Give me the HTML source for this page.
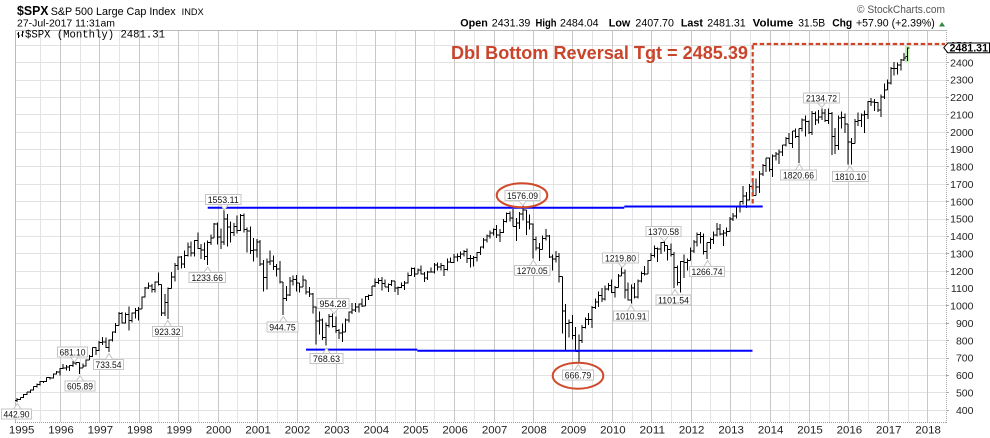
<!DOCTYPE html>
<html><head><meta charset="utf-8">
<style>
html,body{margin:0;padding:0;background:#fff;}
svg{display:block;}
text{font-family:"Liberation Sans",Arial,sans-serif;}
.ax{font-size:10.5px;fill:#222;}
.xl{font-size:11px;fill:#222;}
.lb{font-size:9.5px;fill:#111;}
.hb{font-size:11px;font-weight:bold;fill:#000;}
.hn{font-size:11px;fill:#000;}
</style></head>
<body>
<svg width="990" height="438" viewBox="0 0 990 438">
<rect x="0" y="0" width="990" height="438" fill="#fff"/>
<!-- gridlines -->
<path fill="none" stroke="#e2e2e2" stroke-width="1" d="M16 410.5H946M16 392.5H946M16 375.5H946M16 358.5H946M16 340.5H946M16 323.5H946M16 305.5H946M16 288.5H946M16 271.5H946M16 253.5H946M16 236.5H946M16 219.5H946M16 201.5H946M16 184.5H946M16 166.5H946M16 149.5H946M16 132.5H946M16 114.5H946M16 97.5H946M16 80.5H946M16 62.5H946M16 45.5H946"/>
<path fill="none" stroke="#e4e4e4" stroke-width="1" d="M40.5 31V422M80.5 31V422M119.5 31V422M158.5 31V422M198.5 31V422M237.5 31V422M277.5 31V422M316.5 31V422M356.5 31V422M395.5 31V422M434.5 31V422M474.5 31V422M513.5 31V422M553.5 31V422M592.5 31V422M632.5 31V422M671.5 31V422M710.5 31V422M750.5 31V422M789.5 31V422M829.5 31V422M868.5 31V422M908.5 31V422"/>
<path fill="none" stroke="#c8c8c8" stroke-width="1" d="M60.5 31V422M99.5 31V422M139.5 31V422M178.5 31V422M218.5 31V422M257.5 31V422M297.5 31V422M336.5 31V422M375.5 31V422M415.5 31V422M454.5 31V422M494.5 31V422M533.5 31V422M572.5 31V422M612.5 31V422M651.5 31V422M691.5 31V422M730.5 31V422M770.5 31V422M809.5 31V422M848.5 31V422M888.5 31V422M927.5 31V422"/>
<path fill="none" stroke="#aaa" stroke-width="1" d="M946 410.5H949M946 392.5H949M946 375.5H949M946 358.5H949M946 340.5H949M946 323.5H949M946 305.5H949M946 288.5H949M946 271.5H949M946 253.5H949M946 236.5H949M946 219.5H949M946 201.5H949M946 184.5H949M946 166.5H949M946 149.5H949M946 132.5H949M946 114.5H949M946 97.5H949M946 80.5H949M946 62.5H949M946 45.5H949"/>
<!-- plot border -->
<line x1="15.5" y1="30" x2="15.5" y2="422" stroke="#bbb"/>
<line x1="15" y1="30.5" x2="946" y2="30.5" stroke="#bbb"/>
<line x1="15" y1="422.5" x2="946" y2="422.5" stroke="#999" stroke-dasharray="1,1"/>
<line x1="946.5" y1="30" x2="946.5" y2="423" stroke="#aaa" stroke-dasharray="1,1"/>
<!-- last bar highlight -->
<rect x="905" y="46" width="4.5" height="16.5" fill="#bff0b0"/>
<!-- OHLC bars: x = month index, y = price -->
<g transform="translate(20.4,479.2) scale(3.285,-0.17375)">
<path fill="none" stroke="#000" stroke-width="1" vector-effect="non-scaling-stroke" shape-rendering="crispEdges" d="
M-1 466V442.9M-1.6 453.6H-1M-1 459.3H-.4
M0 471V456M-.6 459.3H0M0 470.4H.6
M1 489V468M.4 470.4H1M1 487.4H1.6
M2 503V484M1.4 487.4H2M2 500.7H2.6
M3 515V497M2.4 500.7H3M3 514.7H3.6
M4 534V511M3.4 514.7H4M4 533.4H4.6
M5 551V528M4.4 533.4H5M5 544.8H5.6
M6 565V540M5.4 544.8H6M6 562.1H6.6
M7 564V553M6.4 562.1H7M7 561.9H7.6
M8 586V559M7.4 561.9H8M8 584.4H8.6
M9 588V573M8.4 584.4H9M9 581.5H9.6
M10 608V580M9.4 581.5H10M10 605.4H10.6
M11 622V603M10.4 605.4H11M11 615.9H11.6
M12 639V598M11.4 615.9H12M12 636H12.6
M13 664V633M12.4 636H13M13 640.4H13.6
M14 656V627M13.4 640.4H14M14 645.5H14.6
M15 657V624M14.4 645.5H15M15 654.2H15.6
M16 681.1V645M15.4 654.2H16M16 669.1H16.6
M17 673V658M16.4 669.1H17M17 670.6H17.6
M18 672V605.9M17.4 670.6H18M18 640H18.6
M19 665V639M18.4 640H19M19 652H19.6
M20 690V650M19.4 652H20M20 687.3H20.6
M21 714V685M20.4 687.3H21M21 705.3H21.6
M22 758V703M21.4 705.3H22M22 757H22.6
M23 762V716M22.4 757H23M23 740.7H23.6
M24 794V737M23.4 740.7H24M24 786.2H24.6
M25 818V773M24.4 786.2H25M25 790.8H25.6
M26 815V756M25.4 790.8H26M26 757.1H26.6
M27 804V733.5M26.4 757.1H27M27 801.3H27.6
M28 851V793M27.4 801.3H28M28 848.3H28.6
M29 899V841M28.4 848.3H29M29 885.1H29.6
M30 961V884M29.4 885.1H30M30 954.3H30.6
M31 961V895M30.4 954.3H31M31 899.5H31.6
M32 960V896M31.4 899.5H32M32 947.3H32.6
M33 994V855M32.4 947.3H33M33 914.6H33.6
M34 960V902M33.4 914.6H34M34 955.4H34.6
M35 986V924M34.4 955.4H35M35 970.4H35.6
M36 992V912M35.4 970.4H36M36 980.3H36.6
M37 1051V979M36.4 980.3H37M37 1049.3H37.6
M38 1106V1045M37.4 1049.3H38M38 1101.8H38.6
M39 1131V1095M38.4 1101.8H39M39 1111.8H39.6
M40 1123V1074M39.4 1111.8H40M40 1090.8H40.6
M41 1139V1075M40.4 1090.8H41M41 1133.8H41.6
M42 1190.6V1114M41.4 1133.8H42M42 1120.7H42.6
M43 1121V940M42.4 1120.7H43M43 957.3H43.6
M44 1066V940M43.4 957.3H44M44 1017H44.6
M45 1103.8V923.3M44.4 1017H45M45 1098.7H45.6
M46 1193V1098.7M45.4 1098.7H46M46 1163.6H46.6
M47 1245V1137M46.4 1163.6H47M47 1229.2H47.6
M48 1280.7V1205M47.4 1229.2H48M48 1279.6H48.6
M49 1283.8V1211.9M48.4 1279.6H49M49 1238.3H49.6
M50 1316.2V1216M49.4 1238.3H50M50 1286.4H50.6
M51 1362.8V1282.6M50.4 1286.4H51M51 1335.2H51.6
M52 1368.6V1281M51.4 1335.2H52M52 1301.8H52.6
M53 1376.5V1281.4M52.4 1301.8H53M53 1372.7H53.6
M54 1420.3V1325M53.4 1372.7H54M54 1328.7H54.6
M55 1352.5V1268.4M54.4 1328.7H55M55 1320.4H55.6
M56 1361.5V1263M55.4 1320.4H56M56 1282.7H56.6
M57 1373.2V1233.7M56.4 1282.7H57M57 1362.9H57.6
M58 1407.6V1348.6M57.4 1362.9H58M58 1388.9H58.6
M59 1473.4V1387.4M58.4 1388.9H59M59 1469.3H59.6
M60 1478V1350M59.4 1469.3H60M60 1394.5H60.6
M61 1444V1325M60.4 1394.5H61M61 1366.4H61.6
M62 1553.1V1346.6M61.4 1366.4H62M62 1498.6H62.6
M63 1527V1339M62.4 1498.6H63M63 1452.4H63.6
M64 1482V1361M63.4 1452.4H64M64 1420.6H64.6
M65 1474V1400M64.4 1420.6H65M65 1454.6H65.6
M66 1517V1415M65.4 1454.6H66M66 1430.8H66.6
M67 1525V1429M66.4 1430.8H67M67 1517.7H67.6
M68 1530V1419M67.4 1517.7H68M68 1436.5H68.6
M69 1448V1305.8M68.4 1436.5H69M69 1429.4H69.6
M70 1454V1296M69.4 1429.4H70M70 1315H70.6
M71 1389V1254M70.4 1315H71M71 1320.3H71.6
M72 1383V1274.6M71.4 1320.3H72M72 1366H72.6
M73 1376.7V1228M72.4 1366H73M73 1239.9H73.6
M74 1263V1081M73.4 1239.9H74M74 1160.3H74.6
M75 1269V1092M74.4 1160.3H75M75 1249.5H75.6
M76 1315.9V1232M75.4 1249.5H76M76 1255.8H76.6
M77 1286.6V1203M76.4 1255.8H77M77 1224.4H77.6
M78 1239.8V1165.5M77.4 1224.4H78M78 1211.2H78.6
M79 1255.8V1124.9M78.4 1211.2H79M79 1133.6H79.6
M80 1134V944.8M79.4 1133.6H80M80 1040.9H80.6
M81 1110.6V1026.8M80.4 1040.9H81M81 1059.8H81.6
M82 1163.4V1054.3M81.4 1059.8H82M82 1139.5H82.6
M83 1173.6V1114.9M82.4 1139.5H83M83 1148.1H83.6
M84 1176.5V1081.7M83.4 1148.1H84M84 1130.2H84.6
M85 1130.2V1074.4M84.4 1130.2H85M85 1106.7H85.6
M86 1173V1106.7M85.4 1106.7H86M86 1147.4H86.6
M87 1147.8V1063.5M86.4 1147.4H87M87 1076.9H87.6
M88 1106.6V1048.9M87.4 1076.9H88M88 1067.1H88.6
M89 1070.7V952.9M88.4 1067.1H89M89 989.8H89.6
M90 994.5V775.7M89.4 989.8H90M90 911.6H90.6
M91 965V833.4M90.4 911.6H91M91 916.1H91.6
M92 924V800.2M91.4 916.1H92M92 815.3H92.6
M93 901V768.6M92.4 815.3H93M93 885.8H93.6
M94 951.6V872M93.4 885.8H94M94 936.3H94.6
M95 954.3V871.8M94.4 936.3H95M95 879.8H95.6
M96 935V840.3M95.4 879.8H96M96 855.7H96.6
M97 864.6V806.3M96.4 855.7H97M97 841.2H97.6
M98 895.9V788.9M97.4 841.2H98M98 848.2H98.6
M99 924.2V847.9M98.4 848.2H99M99 916.9H99.6
M100 965V902M99.4 916.9H100M100 963.6H100.6
M101 1015V951M100.4 963.6H101M101 974.5H101.6
M102 1015.4V962M101.4 974.5H102M102 990.3H102.6
M103 1011V960.8M102.4 990.3H103M103 1008H103.6
M104 1040V990.4M103.4 1008H104M104 996H104.6
M105 1053.8V996M104.4 996H105M105 1050.7H105.6
M106 1063.7V1031.2M105.4 1050.7H106M106 1058.2H106.6
M107 1112V1053.4M106.4 1058.2H107M107 1111.9H107.6
M108 1155.4V1105M107.4 1111.9H108M108 1131.1H108.6
M109 1159V1124.4M108.4 1131.1H109M109 1144.9H109.6
M110 1163.2V1087.2M109.4 1144.9H110M110 1126.2H110.6
M111 1150.6V1107.2M110.4 1126.2H111M111 1107.3H111.6
M112 1127.7V1076.3M111.4 1107.3H112M112 1120.7H112.6
M113 1146.3V1113.3M112.4 1120.7H113M113 1140.8H113.6
M114 1140.8V1078.8M113.4 1140.8H114M114 1101.7H114.6
M115 1109.7V1060.7M114.4 1101.7H115M115 1104.2H115.6
M116 1131.5V1101.3M115.4 1104.2H116M116 1114.6H116.6
M117 1142V1090.2M116.4 1114.6H117M117 1130.2H117.6
M118 1188.5V1127.6M117.4 1130.2H118M118 1173.8H118.6
M119 1217.3V1173.8M118.4 1173.8H119M119 1211.9H119.6
M120 1217.8V1163.8M119.4 1211.9H120M120 1181.3H120.6
M121 1212.4V1180.1M120.4 1181.3H121M121 1203.6H121.6
M122 1229.1V1176.9M121.4 1203.6H122M122 1180.6H122.6
M123 1191.9V1136.2M122.4 1180.6H123M123 1156.9H123.6
M124 1199.6V1146.2M123.4 1156.9H124M124 1191.5H124.6
M125 1219.6V1188.3M124.4 1191.5H125M125 1191.3H125.6
M126 1245.2V1183.6M125.4 1191.3H126M126 1234.2H126.6
M127 1245.9V1201.1M126.4 1234.2H127M127 1220.3H127.6
M128 1243.1V1201.1M127.4 1220.3H128M128 1228.8H128.6
M129 1233.3V1168.2M128.4 1228.8H129M129 1207H129.6
M130 1270.6V1201.1M129.4 1207H130M130 1249.5H130.6
M131 1275.8V1246.6M130.4 1249.5H131M131 1248.3H131.6
M132 1294.9V1245.7M131.4 1248.3H132M132 1280.1H132.6
M133 1297.6V1253.6M132.4 1280.1H133M133 1280.7H133.6
M134 1310.9V1268.4M133.4 1280.7H134M134 1294.8H134.6
M135 1318.2V1280.7M134.4 1294.8H135M135 1310.6H135.6
M136 1326.7V1245.3M135.4 1310.6H136M136 1270.1H136.6
M137 1290.7V1219.3M136.4 1270.1H137M137 1270.2H137.6
M138 1283.4V1224.5M137.4 1270.2H138M138 1276.7H138.6
M139 1306.7V1253.6M138.4 1276.7H139M139 1303.8H139.6
M140 1340.3V1290.9M139.4 1303.8H140M140 1335.9H140.6
M141 1389.5V1327.1M140.4 1335.9H141M141 1377.9H141.6
M142 1407.9V1361M141.4 1377.9H142M142 1400.6H142.6
M143 1431.8V1385.9M142.4 1400.6H143M143 1418.3H143.6
M144 1441.6V1404M143.4 1418.3H144M144 1438.2H144.6
M145 1461.6V1389M144.4 1438.2H145M145 1406.8H145.6
M146 1438.9V1364M145.4 1406.8H146M146 1420.9H146.6
M147 1498V1416.4M146.4 1420.9H147M147 1482.4H147.6
M148 1535.6V1476.7M147.4 1482.4H148M148 1530.6H148.6
M149 1540.6V1484.2M148.4 1530.6H149M149 1503.4H149.6
M150 1555.9V1454.3M149.4 1503.4H150M150 1455.3H150.6
M151 1503.9V1370.6M150.4 1455.3H151M151 1474H151.6
M152 1538.7V1439.6M151.4 1474H152M152 1526.8H152.6
M153 1576.1V1489.6M152.4 1526.8H153M153 1549.4H153.6
M154 1549.4V1406.1M153.4 1549.4H154M154 1481.1H154.6
M155 1523.6V1435.7M154.4 1481.1H155M155 1468.4H155.6
M156 1471.8V1270.1M155.4 1468.4H156M156 1378.6H156.6
M157 1396V1316.8M156.4 1378.6H157M157 1330.6H157.6
M158 1359.7V1257M157.4 1330.6H158M158 1322.7H158.6
M159 1404V1322.7M158.4 1322.7H159M159 1385.6H159.6
M160 1440.2V1373.7M159.4 1385.6H160M160 1400.4H160.6
M161 1404.1V1272M160.4 1400.4H161M161 1280H161.6
M162 1292.2V1200.4M161.4 1280H162M162 1267.4H162.6
M163 1313.2V1247.5M162.4 1267.4H163M163 1282.8H163.6
M164 1303V1133.5M163.4 1282.8H164M164 1166.4H164.6
M165 1167V839.8M164.4 1166.4H165M165 968.8H165.6
M166 1007.5V741M165.4 968.8H166M166 896.2H166.6
M167 918.9V815.7M166.4 896.2H167M167 903.3H167.6
M168 943.8V804.3M167.4 903.3H168M168 825.9H168.6
M169 875V734.5M168.4 825.9H169M169 735.1H169.6
M170 833V666.8M169.4 735.1H170M170 797.9H170.6
M171 888.7V783.3M170.4 797.9H171M171 872.8H171.6
M172 930.2V866.1M171.4 872.8H172M172 919.1H172.6
M173 956.2V888.9M172.4 919.1H173M173 919.3H173.6
M174 996.7V869.3M173.4 919.3H174M174 987.5H174.6
M175 1039.5V978.5M174.4 987.5H175M175 1020.6H175.6
M176 1080.2V992.3M175.4 1020.6H176M176 1057.1H176.6
M177 1101.4V1020.2M176.4 1057.1H177M177 1036.2H177.6
M178 1113.7V1029.4M177.4 1036.2H178M178 1095.6H178.6
M179 1130.4V1085.9M178.4 1095.6H179M179 1115.1H179.6
M180 1150.5V1071.6M179.4 1115.1H180M180 1073.9H180.6
M181 1112.4V1044.5M180.4 1073.9H181M181 1104.5H181.6
M182 1180.7V1104.5M181.4 1104.5H182M182 1169.4H182.6
M183 1219.8V1169.4M182.4 1169.4H183M183 1186.7H183.6
M184 1206.1V1040.8M183.4 1186.7H184M184 1089.4H184.6
M185 1131.2V1028.3M184.4 1089.4H185M185 1030.7H185.6
M186 1121V1010.9M185.4 1030.7H186M186 1101.6H186.6
M187 1129.2V1039.7M186.4 1101.6H187M187 1049.3H187.6
M188 1148.9V1040.9M187.4 1049.3H188M188 1141.2H188.6
M189 1196.1V1131.9M188.4 1141.2H189M189 1183.3H189.6
M190 1227.1V1173M189.4 1183.3H190M190 1180.6H190.6
M191 1262.6V1180.6M190.4 1180.6H191M191 1257.6H191.6
M192 1302.7V1257.6M191.4 1257.6H192M192 1286.1H192.6
M193 1344.1V1275.1M192.4 1286.1H193M193 1327.2H193.6
M194 1332.3V1249M193.4 1327.2H194M194 1325.8H194.6
M195 1364.6V1294.7M194.4 1325.8H195M195 1363.6H195.6
M196 1370.6V1311.8M195.4 1363.6H196M196 1345.2H196.6
M197 1345.2V1258.1M196.4 1345.2H197M197 1320.6H197.6
M198 1356.5V1282.9M197.4 1320.6H198M198 1292.3H198.6
M199 1307.4V1101.5M198.4 1292.3H199M199 1218.9H199.6
M200 1230.7V1114.2M199.4 1218.9H200M200 1131.4H200.6
M201 1256.6V1074.8M200.4 1131.4H201M201 1253.3H201.6
M202 1292.7V1158.7M201.4 1253.3H202M202 1247H202.6
M203 1269.4V1202.4M202.4 1247H203M203 1257.6H203.6
M204 1333.5V1257.6M203.4 1257.6H204M204 1312.4H204.6
M205 1378V1300.5M204.4 1312.4H205M205 1365.7H205.6
M206 1419.2V1340M205.4 1365.7H206M206 1408.5H206.6
M207 1422.4V1357.4M206.4 1408.5H207M207 1397.9H207.6
M208 1415.3V1292M207.4 1397.9H208M208 1310.3H208.6
M209 1363.5V1266.7M208.4 1310.3H209M209 1362.2H209.6
M210 1391.7V1325.4M209.4 1362.2H210M210 1379.3H210.6
M211 1426.7V1354.7M210.4 1379.3H211M211 1406.6H211.6
M212 1474.5V1396.6M211.4 1406.6H212M212 1440.7H212.6
M213 1470V1403.3M212.4 1440.7H213M213 1412.2H213.6
M214 1434.3V1343.4M213.4 1412.2H214M214 1416.2H214.6
M215 1448V1398.1M214.4 1416.2H215M215 1426.2H215.6
M216 1509.9V1426.2M215.4 1426.2H216M216 1498.1H216.6
M217 1530.9V1485M216.4 1498.1H217M217 1514.7H217.6
M218 1570.3V1501.5M217.4 1514.7H218M218 1569.2H218.6
M219 1597.6V1536M218.4 1569.2H219M219 1597.6H219.6
M220 1687.2V1581.3M219.4 1597.6H220M220 1630.7H220.6
M221 1654V1560.3M220.4 1630.7H221M221 1606.3H221.6
M222 1698.8V1604.6M221.4 1606.3H222M222 1685.7H222.6
M223 1709.7V1627.5M222.4 1685.7H223M223 1633H223.6
M224 1729.9V1633M223.4 1633H224M224 1681.6H224.6
M225 1775.2V1646.5M224.4 1681.6H225M225 1756.5H225.6
M226 1813.6V1746.2M225.4 1756.5H226M226 1805.8H226.6
M227 1849.4V1768M226.4 1805.8H227M227 1848.4H227.6
M228 1850.8V1770.5M227.4 1848.4H228M228 1782.6H228.6
M229 1867.9V1737.9M228.4 1782.6H229M229 1859.5H229.6
M230 1884V1834.4M229.4 1859.5H230M230 1872.3H230.6
M231 1897.3V1814.4M230.4 1872.3H231M231 1884H231.6
M232 1924V1859.8M231.4 1884H232M232 1923.6H232.6
M233 1968.2V1915M232.4 1923.6H233M233 1960.2H233.6
M234 1991.4V1930.7M233.4 1960.2H234M234 1930.7H234.6
M235 2005V1904.8M234.4 1930.7H235M235 2003.4H235.6
M236 2019.3V1964M235.4 2003.4H236M236 1972.3H236.6
M237 2018.2V1820.7M236.4 1972.3H237M237 2018.1H237.6
M238 2075.8V2001M237.4 2018.1H238M238 2067.6H238.6
M239 2093.6V1972.6M238.4 2067.6H239M239 2058.9H239.6
M240 2064.4V1988.1M239.4 2058.9H240M240 1995H240.6
M241 2119.6V1980.9M240.4 1995H241M241 2104.5H241.6
M242 2117.5V2039.7M241.4 2104.5H242M242 2067.9H242.6
M243 2125.9V2048.4M242.4 2067.9H243M243 2085.5H243.6
M244 2134.7V2067.9M243.4 2085.5H244M244 2107.4H244.6
M245 2129.9V2056.3M244.4 2107.4H245M245 2063.1H245.6
M246 2132.8V2044M245.4 2063.1H246M246 2103.8H246.6
M247 2112.7V1867M246.4 2103.8H247M247 1972.2H247.6
M248 2020.9V1871.9M247.4 1972.2H248M248 1920H248.6
M249 2094.3V1893.7M248.4 1920H249M249 2079.4H249.6
M250 2116.5V2019.4M249.4 2079.4H250M250 2080.4H250.6
M251 2104.3V1993.3M250.4 2080.4H251M251 2043.9H251.6
M252 2043.9V1812.3M251.4 2043.9H252M252 1940.2H252.6
M253 1963V1810.1M252.4 1940.2H253M253 1932.2H253.6
M254 2072.2V1932.2M253.4 1932.2H254M254 2059.7H254.6
M255 2111V2033.8M254.4 2059.7H255M255 2065.3H255.6
M256 2103.5V2025.9M255.4 2065.3H256M256 2097H256.6
M257 2120.6V1991.7M256.4 2097H257M257 2098.9H257.6
M258 2178V2074M257.4 2098.9H258M258 2173.6H258.6
M259 2193.8V2147.6M258.4 2173.6H259M259 2171H259.6
M260 2187.9V2119.1M259.4 2171H260M260 2168.3H260.6
M261 2169.6V2114.7M260.4 2168.3H261M261 2126.2H261.6
M262 2214.1V2083.8M261.4 2126.2H262M262 2198.8H262.6
M263 2277.5V2187.4M262.4 2198.8H263M263 2238.8H263.6
M264 2301V2238.8M263.4 2238.8H264M264 2278.9H264.6
M265 2371.5V2271.7M264.4 2278.9H265M265 2363.6H265.6
M266 2401V2322.3M265.4 2363.6H266M266 2362.7H266.6
M267 2398.2V2329M266.4 2362.7H267M267 2384.2H267.6
M268 2418.7V2352.7M267.4 2384.2H268M268 2411.8H268.6
M269 2453.8V2405.7M268.4 2411.8H269M269 2423.4H269.6
M270 2484V2407.7M269.4 2431.4H270M270 2481.3H270.6"/>
</g>

<!-- blue support/resistance lines -->
<g stroke="#0000ff" stroke-width="2" fill="none">
<line x1="207.7" y1="207.7" x2="624.3" y2="207.7"/>
<line x1="624.3" y1="206.5" x2="762.7" y2="206.5"/>
<line x1="306" y1="349.6" x2="417.3" y2="349.6"/>
<line x1="417.3" y1="350.8" x2="752.5" y2="350.8"/>
</g>
<!-- red dashed target -->
<g stroke="#cf4526" stroke-width="2.2" fill="none" stroke-dasharray="4.5,2.5">
<line x1="752.7" y1="203.5" x2="752.7" y2="44"/>
<line x1="752.7" y1="44" x2="945" y2="44"/>
</g>

<!-- label boxes -->
<g stroke="#c4c4c4" stroke-width="1" fill="#fff">
<path d="M13.3 409.5L17.3 403.5L21.3 409.5Z"/><rect x="1.5" y="409" width="30" height="10"/>
<path d="M70.3 357L74.3 362L78.3 357Z"/><rect x="57.5" y="347" width="30" height="10"/>
<path d="M76 381.5L80 375.5L84 381.5Z"/><rect x="65" y="381" width="30" height="10"/>
<path d="M105 360L109 353.5L113 360Z"/><rect x="93.5" y="359.5" width="30" height="10"/>
<path d="M163.7 327L167.7 320.5L171.7 327Z"/><rect x="152.5" y="326.5" width="30" height="10"/>
<path d="M203.7 273L207.7 267L211.7 273Z"/><rect x="189" y="272.5" width="36.5" height="10"/>
<path d="M220.3 204.5L224.3 210L228.3 204.5Z"/><rect x="205.5" y="194.5" width="35.5" height="10"/>
<path d="M279.3 322.5L283.3 316.5L287.3 322.5Z"/><rect x="267" y="322" width="31" height="10"/>
<path d="M330 308.5L334 313.5L338 308.5Z"/><rect x="317" y="298.5" width="32" height="10"/>
<path d="M322.5 354L326.5 348L330.5 354Z"/><rect x="310" y="353.5" width="33" height="10"/>
<path d="M518.7 200.5L522.7 205.5L526.7 200.5Z"/><rect x="505" y="190.5" width="35" height="10"/>
<path d="M529.3 266L533.3 260.5L537.3 266Z"/><rect x="514.5" y="265.5" width="35.5" height="10"/>
<path d="M574.3 370.5L578.3 364.5L582.3 370.5Z"/><rect x="562.5" y="370" width="31" height="10"/>
<path d="M618.3 263L622.3 267.5L626.3 263Z"/><rect x="602.5" y="253" width="36" height="10"/>
<path d="M627 311.5L631 305L635 311.5Z"/><rect x="613.5" y="311" width="35" height="10"/>
<path d="M660 236.5L664 241.5L668 236.5Z"/><rect x="646" y="226.5" width="35" height="10"/>
<path d="M671 295.5L675 289.5L679 295.5Z"/><rect x="656" y="295" width="35" height="10"/>
<path d="M703.7 267L707.7 260.5L711.7 267Z"/><rect x="689.5" y="266.5" width="35" height="10"/>
<path d="M795.3 170.5L799.3 164L803.3 170.5Z"/><rect x="780.5" y="170" width="36" height="10"/>
<path d="M817.7 103L821.7 107.5L825.7 103Z"/><rect x="803.5" y="93" width="36" height="10"/>
<path d="M846 172L850 166L854 172Z"/><rect x="832.5" y="171.5" width="36" height="10"/>
</g>
<g class="lb" text-anchor="middle">
<text x="16.5" y="417.3" textLength="26" lengthAdjust="spacingAndGlyphs">442.90</text>
<text x="72.5" y="355.3" textLength="26" lengthAdjust="spacingAndGlyphs">681.10</text>
<text x="80" y="389.3" textLength="26" lengthAdjust="spacingAndGlyphs">605.89</text>
<text x="108.5" y="367.8" textLength="26" lengthAdjust="spacingAndGlyphs">733.54</text>
<text x="167.5" y="334.8" textLength="26" lengthAdjust="spacingAndGlyphs">923.32</text>
<text x="207.2" y="280.8" textLength="31.5" lengthAdjust="spacingAndGlyphs">1233.66</text>
<text x="223.2" y="202.8" textLength="31" lengthAdjust="spacingAndGlyphs">1553.11</text>
<text x="282.5" y="330.3" textLength="26.5" lengthAdjust="spacingAndGlyphs">944.75</text>
<text x="333" y="306.8" textLength="27" lengthAdjust="spacingAndGlyphs">954.28</text>
<text x="326.5" y="361.8" textLength="27" lengthAdjust="spacingAndGlyphs">768.63</text>
<text x="522.5" y="198.8" textLength="31" lengthAdjust="spacingAndGlyphs">1576.09</text>
<text x="532.2" y="273.8" textLength="31" lengthAdjust="spacingAndGlyphs">1270.05</text>
<text x="578" y="378.3" textLength="26.5" lengthAdjust="spacingAndGlyphs">666.79</text>
<text x="620.5" y="261.3" textLength="31" lengthAdjust="spacingAndGlyphs">1219.80</text>
<text x="631" y="319.3" textLength="31" lengthAdjust="spacingAndGlyphs">1010.91</text>
<text x="663.5" y="234.8" textLength="31" lengthAdjust="spacingAndGlyphs">1370.58</text>
<text x="673.5" y="303.3" textLength="31" lengthAdjust="spacingAndGlyphs">1101.54</text>
<text x="707" y="274.8" textLength="31" lengthAdjust="spacingAndGlyphs">1266.74</text>
<text x="798.5" y="178.3" textLength="31" lengthAdjust="spacingAndGlyphs">1820.66</text>
<text x="821.5" y="101.3" textLength="31" lengthAdjust="spacingAndGlyphs">2134.72</text>
<text x="850.5" y="179.8" textLength="31" lengthAdjust="spacingAndGlyphs">1810.10</text>
</g>

<!-- red ellipses -->
<g stroke="#d04a2c" stroke-width="2" fill="none">
<ellipse cx="522" cy="195.3" rx="25.3" ry="12"/>
<ellipse cx="578" cy="375.7" rx="25.3" ry="13"/>
</g>

<!-- target text -->
<text x="451" y="58.8" font-size="18" font-weight="bold" fill="#c9442a" textLength="297" lengthAdjust="spacingAndGlyphs">Dbl Bottom Reversal Tgt = 2485.39</text>

<!-- y-axis labels -->
<g class="ax" text-anchor="end">
<text x="973.5" y="48.9">2500</text>
<text x="973.5" y="66.3">2400</text>
<text x="973.5" y="83.6">2300</text>
<text x="973.5" y="101.0">2200</text>
<text x="973.5" y="118.4">2100</text>
<text x="973.5" y="135.8">2000</text>
<text x="973.5" y="153.1">1900</text>
<text x="973.5" y="170.5">1800</text>
<text x="973.5" y="187.9">1700</text>
<text x="973.5" y="205.3">1600</text>
<text x="973.5" y="222.6">1500</text>
<text x="973.5" y="240.0">1400</text>
<text x="973.5" y="257.4">1300</text>
<text x="973.5" y="274.8">1200</text>
<text x="973.5" y="292.1">1100</text>
<text x="973.5" y="309.5">1000</text>
<text x="973.5" y="326.9">900</text>
<text x="973.5" y="344.3">800</text>
<text x="973.5" y="361.6">700</text>
<text x="973.5" y="379.0">600</text>
<text x="973.5" y="396.4">500</text>
<text x="973.5" y="413.8">400</text>
</g>
<!-- last price box -->
<path d="M943.8 47.7L947.8 43H989.5V52.7H947.8Z" fill="#fff" stroke="#000" stroke-width="1"/>
<text x="949.5" y="51.7" font-size="11" font-weight="bold" fill="#000" textLength="38.5" lengthAdjust="spacingAndGlyphs">2481.31</text>

<!-- x-axis labels -->
<g class="xl" text-anchor="middle">
<text x="21.6" y="433.5" textLength="25.5" lengthAdjust="spacingAndGlyphs">1995</text>
<text x="61" y="433.5" textLength="25.5" lengthAdjust="spacingAndGlyphs">1996</text>
<text x="100.4" y="433.5" textLength="25.5" lengthAdjust="spacingAndGlyphs">1997</text>
<text x="139.8" y="433.5" textLength="25.5" lengthAdjust="spacingAndGlyphs">1998</text>
<text x="179.3" y="433.5" textLength="25.5" lengthAdjust="spacingAndGlyphs">1999</text>
<text x="218.7" y="433.5" textLength="25.5" lengthAdjust="spacingAndGlyphs">2000</text>
<text x="258.1" y="433.5" textLength="25.5" lengthAdjust="spacingAndGlyphs">2001</text>
<text x="297.5" y="433.5" textLength="25.5" lengthAdjust="spacingAndGlyphs">2002</text>
<text x="336.9" y="433.5" textLength="25.5" lengthAdjust="spacingAndGlyphs">2003</text>
<text x="376.4" y="433.5" textLength="25.5" lengthAdjust="spacingAndGlyphs">2004</text>
<text x="415.8" y="433.5" textLength="25.5" lengthAdjust="spacingAndGlyphs">2005</text>
<text x="455.2" y="433.5" textLength="25.5" lengthAdjust="spacingAndGlyphs">2006</text>
<text x="494.6" y="433.5" textLength="25.5" lengthAdjust="spacingAndGlyphs">2007</text>
<text x="534" y="433.5" textLength="25.5" lengthAdjust="spacingAndGlyphs">2008</text>
<text x="573.5" y="433.5" textLength="25.5" lengthAdjust="spacingAndGlyphs">2009</text>
<text x="612.9" y="433.5" textLength="25.5" lengthAdjust="spacingAndGlyphs">2010</text>
<text x="652.3" y="433.5" textLength="25.5" lengthAdjust="spacingAndGlyphs">2011</text>
<text x="691.7" y="433.5" textLength="25.5" lengthAdjust="spacingAndGlyphs">2012</text>
<text x="731.1" y="433.5" textLength="25.5" lengthAdjust="spacingAndGlyphs">2013</text>
<text x="770.6" y="433.5" textLength="25.5" lengthAdjust="spacingAndGlyphs">2014</text>
<text x="810" y="433.5" textLength="25.5" lengthAdjust="spacingAndGlyphs">2015</text>
<text x="849.4" y="433.5" textLength="25.5" lengthAdjust="spacingAndGlyphs">2016</text>
<text x="888.8" y="433.5" textLength="25.5" lengthAdjust="spacingAndGlyphs">2017</text>
<text x="928.2" y="433.5" textLength="25.5" lengthAdjust="spacingAndGlyphs">2018</text>
</g>

<!-- header -->
<text x="17" y="15" font-size="13" font-weight="bold" fill="#000" textLength="31.5" lengthAdjust="spacingAndGlyphs">$SPX</text>
<text x="50.7" y="15" font-size="11" fill="#000" textLength="125" lengthAdjust="spacingAndGlyphs">S&amp;P 500 Large Cap Index</text>
<text x="181.7" y="15" font-size="9" fill="#000" textLength="22" lengthAdjust="spacingAndGlyphs">INDX</text>
<text x="17" y="26.5" font-size="10.5" fill="#000" textLength="98" lengthAdjust="spacingAndGlyphs">27-Jul-2017 11:31am</text>
<text x="857" y="13" font-size="11" fill="#555" textLength="88" lengthAdjust="spacingAndGlyphs">© StockCharts.com</text>

<text class="hb" x="460.3" y="26.6" textLength="27.5" lengthAdjust="spacingAndGlyphs">Open</text>
<text class="hn" x="491.8" y="26.6" textLength="38.5" lengthAdjust="spacingAndGlyphs">2431.39</text>
<text class="hb" x="535.5" y="26.6" textLength="21" lengthAdjust="spacingAndGlyphs">High</text>
<text class="hn" x="560" y="26.6" textLength="38.6" lengthAdjust="spacingAndGlyphs">2484.04</text>
<text class="hb" x="608.8" y="26.6" textLength="21.5" lengthAdjust="spacingAndGlyphs">Low</text>
<text class="hn" x="635.4" y="26.6" textLength="38.5" lengthAdjust="spacingAndGlyphs">2407.70</text>
<text class="hb" x="680.9" y="26.6" textLength="22" lengthAdjust="spacingAndGlyphs">Last</text>
<text class="hn" x="707.2" y="26.6" textLength="38.5" lengthAdjust="spacingAndGlyphs">2481.31</text>
<text class="hb" x="752.7" y="26.6" textLength="40.5" lengthAdjust="spacingAndGlyphs">Volume</text>
<text class="hn" x="798.2" y="26.6" textLength="27" lengthAdjust="spacingAndGlyphs">31.5B</text>
<text class="hb" x="832.2" y="26.6" textLength="20" lengthAdjust="spacingAndGlyphs">Chg</text>
<text class="hn" x="856" y="26.6" textLength="78.8" lengthAdjust="spacingAndGlyphs">+57.90 (+2.39%)</text>
<path d="M939 26.5H945L942 22Z" fill="#2e8b3a"/>

<!-- legend -->
<g stroke="#000" stroke-width="1" fill="none" shape-rendering="crispEdges">
<path d="M18.5 32V38M17 34H18.5M18.5 36H20"/>
<path d="M22.5 31V37M21 35H22.5M22.5 32H24"/>
</g>
<text x="25" y="37.7" font-size="10.6" fill="#000" textLength="140" lengthAdjust="spacingAndGlyphs" style="font-family:'Liberation Mono',monospace">$SPX (Monthly) 2481.31</text>
</svg>
</body></html>
